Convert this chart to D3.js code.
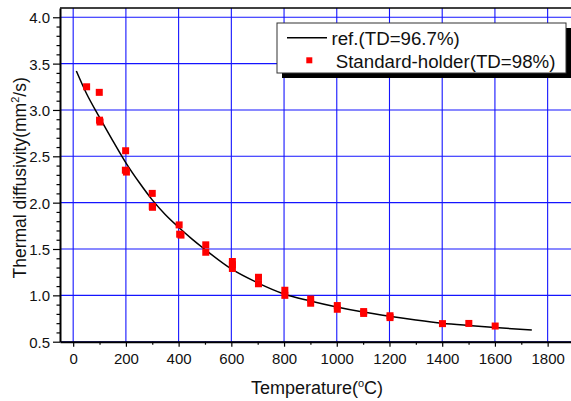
<!DOCTYPE html>
<html><head><meta charset="utf-8">
<script src="https://cdn.jsdelivr.net/npm/d3@7"></script>
<style>body{margin:0;background:#fff;overflow:hidden}</style>
</head><body>
<svg id="c" width="571" height="401"></svg>
<script>
// ---- data ----
const pointTemps  = [51, 99, 100, 102, 199, 198, 202, 300, 300, 301, 402, 404, 409, 503, 503, 604, 604, 604, 703, 703, 803, 803, 901, 901, 1002, 1002, 1102, 1102, 1202, 1202, 1401, 1501, 1601];
const pointValues = [3.25, 3.19, 2.89, 2.87, 2.56, 2.35, 2.33, 2.10, 1.96, 1.95, 1.76, 1.66, 1.65, 1.545, 1.465, 1.365, 1.33, 1.29, 1.195, 1.125, 1.055, 1.00, 0.96, 0.915, 0.89, 0.85, 0.825, 0.805, 0.78, 0.76, 0.695, 0.697, 0.669];
const curveTemps  = [12, 50, 100, 150, 200, 250, 300, 350, 400, 450, 500, 600, 700, 800, 900, 1000, 1100, 1200, 1300, 1400, 1500, 1600, 1740];
const curveValues = [3.42, 3.18, 2.92, 2.67, 2.43, 2.22, 2.03, 1.87, 1.735, 1.61, 1.495, 1.285, 1.135, 1.015, 0.94, 0.875, 0.82, 0.775, 0.735, 0.70, 0.675, 0.653, 0.626];
const xTicks = [0, 200, 400, 600, 800, 1000, 1200, 1400, 1600, 1800];
const xMinorTicks = [100, 300, 500, 700, 900, 1100, 1300, 1500, 1700];
const yTicks = [0.5, 1.0, 1.5, 2.0, 2.5, 3.0, 3.5, 4.0];
const yTickLabels = ["0.5", "1.0", "1.5", "2.0", "2.5", "3.0", "3.5", "4.0"];
const legendLabels = ["ref.(TD=96.7%)", "Standard-holder(TD=98%)"];
const xTitle = ["Temperature(", "o", "C)"];
const yTitle = ["Thermal diffusivity(mm", "2", "/s)"];

// ---- layout ----
const FONT = "'Liberation Sans', Arial, sans-serif";
const L = 60, R = 574, T = 8, B = 341.7;
const svg = d3.select("#c");
const x = d3.scaleLinear().domain([-50, 1900]).range([L, R]);
const y = d3.scaleLinear().domain([0.5, 4.1]).range([B, T]);

// grid
const grid = svg.append("g").attr("stroke", "#1414ff").attr("stroke-width", 1.1);
grid.selectAll("line.v").data(xTicks).join("line")
  .attr("x1", d => x(d)).attr("x2", d => x(d)).attr("y1", T).attr("y2", B);
grid.selectAll("line.h").data(yTicks).join("line")
  .attr("x1", L).attr("x2", R).attr("y1", d => y(d)).attr("y2", d => y(d));

// curve
const curveData = curveTemps.map((t, i) => [t, curveValues[i]]);
svg.append("path").datum(curveData)
  .attr("fill", "none").attr("stroke", "#000").attr("stroke-width", 1.5)
  .attr("d", d3.line().x(d => x(d[0])).y(d => y(d[1])).curve(d3.curveMonotoneX));

// points
const S = 7;
svg.append("g").selectAll("rect").data(pointTemps.map((t, i) => [t, pointValues[i]])).join("rect")
  .attr("x", d => x(d[0]) - S / 2).attr("y", d => y(d[1]) - S / 2)
  .attr("width", S).attr("height", S).attr("fill", "#ff0000");

// axes
const ax = svg.append("g").attr("transform", `translate(0,${B})`)
  .call(d3.axisBottom(x).tickValues(xTicks).tickSize(5).tickSizeOuter(0).tickFormat(d3.format("d")));
svg.append("g").attr("transform", `translate(0,${B})`)
  .call(d3.axisBottom(x).tickValues(xMinorTicks).tickSize(3).tickSizeOuter(0).tickFormat(""))
  .call(g => g.select(".domain").remove());
const ay = svg.append("g").attr("transform", `translate(${L},0)`)
  .call(d3.axisLeft(y).tickValues(yTicks).tickSize(7).tickSizeOuter(0).tickFormat((d, i) => yTickLabels[i]));
const yMinor = d3.range(5, 41).map(v => v / 10).filter(v => Math.abs(v * 2 - Math.round(v * 2)) > 1e-6);
svg.append("g").attr("transform", `translate(${L},0)`)
  .call(d3.axisLeft(y).tickValues(yMinor).tickSize(3.5).tickSizeOuter(0).tickFormat(""))
  .call(g => g.select(".domain").remove());
svg.selectAll(".tick line").attr("stroke", "#000").attr("stroke-width", 1.2);
svg.selectAll(".domain").attr("stroke", "#000").attr("stroke-width", 2);
ax.selectAll("text").attr("font-family", FONT).attr("font-size", 15).attr("fill", "#111").attr("dy", 0).attr("y", 22.5);
ay.selectAll("text").attr("font-family", FONT).attr("font-size", 15).attr("fill", "#111").attr("x", -10).attr("dy", "0.36em");

// top frame
svg.append("line").attr("x1", L).attr("x2", 571).attr("y1", T).attr("y2", T)
  .attr("stroke", "#000").attr("stroke-width", 1.5);

// titles
const xt = svg.append("text").attr("x", (L + R) / 2).attr("y", 394).attr("text-anchor", "middle")
  .attr("font-family", FONT).attr("font-size", 18).attr("fill", "#111");
xt.append("tspan").text(xTitle[0]);
xt.append("tspan").text(xTitle[1]).attr("font-size", 11).attr("dy", -7);
xt.append("tspan").text(xTitle[2]).attr("dy", 7);

const yt = svg.append("text").attr("transform", `translate(26,${(T + B) / 2 + 3}) rotate(-90)`)
  .attr("text-anchor", "middle").attr("font-family", FONT).attr("font-size", 17.5).attr("fill", "#111");
yt.append("tspan").text(yTitle[0]);
yt.append("tspan").text(yTitle[1]).attr("font-size", 11).attr("dy", -7);
yt.append("tspan").text(yTitle[2]).attr("dy", 7);

// legend
const lg = svg.append("g");
lg.append("rect").attr("x", 282).attr("y", 28).attr("width", 289).attr("height", 50).attr("fill", "#000");
lg.append("rect").attr("x", 277).attr("y", 23).attr("width", 289).attr("height", 50)
  .attr("fill", "#fff").attr("stroke", "#333").attr("stroke-width", 1);
lg.append("line").attr("x1", 287).attr("x2", 327).attr("y1", 37.7).attr("y2", 37.7)
  .attr("stroke", "#000").attr("stroke-width", 1.5);
lg.append("rect").attr("x", 306.3).attr("y", 57.3).attr("width", 6).attr("height", 6).attr("fill", "#ff0000");
lg.append("text").attr("x", 331.5).attr("y", 45.3).text(legendLabels[0])
  .attr("font-family", FONT).attr("font-size", 18.7).attr("fill", "#111");
lg.append("text").attr("x", 335.7).attr("y", 68.3).text(legendLabels[1])
  .attr("font-family", FONT).attr("font-size", 18.7).attr("fill", "#111");
</script>
</body></html>
